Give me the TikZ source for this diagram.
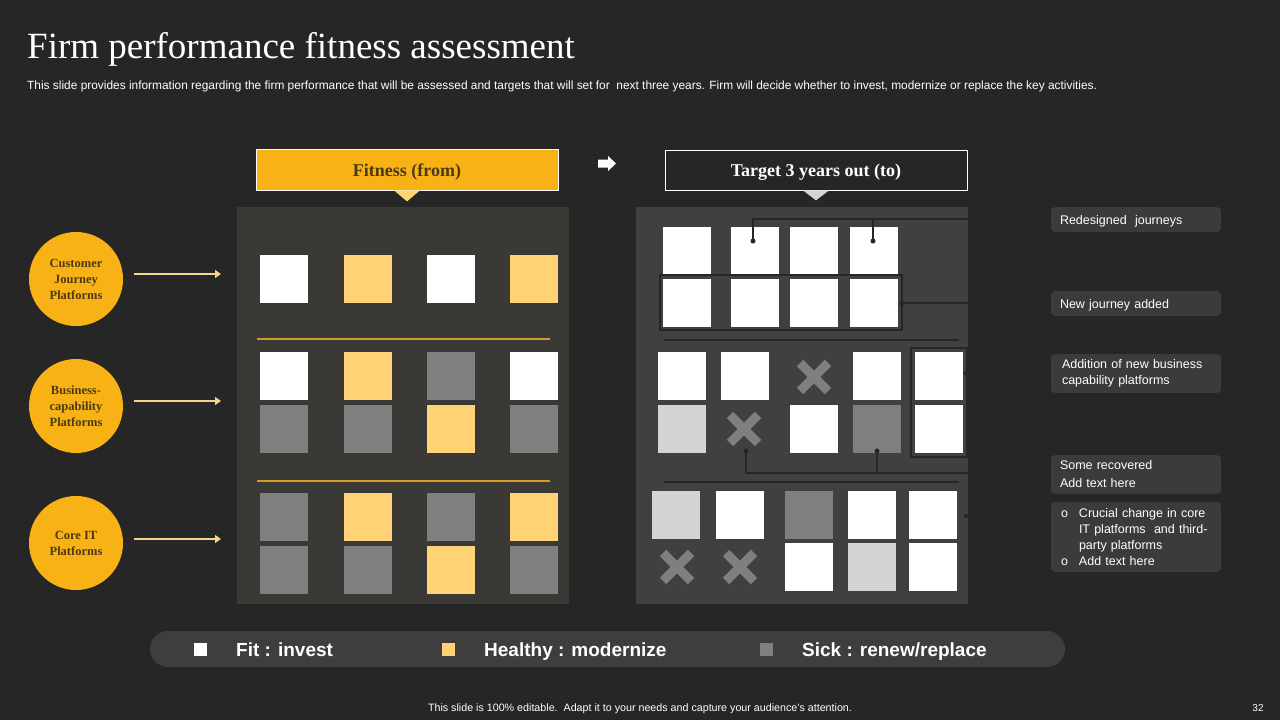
\documentclass[tikz,border=0pt]{standalone}
\usepackage{fontspec}
\setmainfont{Liberation Serif}
\setsansfont{Liberation Sans}
\usetikzlibrary{arrows.meta,calc}
\definecolor{bg}{HTML}{262626}
\definecolor{panelL}{HTML}{3B3935}
\definecolor{panelR}{HTML}{404040}
\definecolor{gold}{HTML}{F9B215}
\definecolor{lyellow}{HTML}{FFD275}
\definecolor{sgrey}{HTML}{7F7F7F}
\definecolor{lgrey}{HTML}{D4D4D4}
\definecolor{brownt}{HTML}{4A3A12}
\definecolor{boxc}{HTML}{3B3B3B}
\definecolor{legbar}{HTML}{3E3E3E}
\definecolor{arrowc}{HTML}{F5D48C}
\definecolor{lineD}{HTML}{262626}
\definecolor{divL}{HTML}{D49A26}
\tikzset{
  sq/.style={rectangle,minimum width=48pt,minimum height=48pt,inner sep=0pt,draw=none},
  wsq/.style={sq,fill=white},
  ysq/.style={sq,fill=lyellow},
  gsq/.style={sq,fill=sgrey},
  lsq/.style={sq,fill=lgrey},
  xmk/.pic={\draw[line width=9pt,sgrey] (-14,-14)--(14,14) (-14,14)--(14,-14);},
  circ/.style={circle,fill=gold,minimum size=94pt,inner sep=0pt,align=center,text=brownt,
    font=\bfseries\fontsize{12.5}{16}\selectfont},
  sidearrow/.style={draw=arrowc,line width=1.6pt,-{Triangle[length=6pt,width=8pt]}},
  conn/.style={draw=lineD,line width=1.1pt},
  cdot/.style={circle,fill=black!85,inner sep=0pt,minimum size=5pt},
  divline/.style={draw=divL,line width=1.3pt},
  lbox/.style={rectangle,rounded corners=4pt,fill=boxc,minimum width=170pt,text width=152pt,
    inner xsep=9pt,inner ysep=0pt,align=left,text=white,font=\sffamily\fontsize{12.5}{16}\selectfont},
  hdr/.style={minimum width=302pt,minimum height=40pt,inner sep=0pt,line width=0.8pt,draw=white,
    text height=13pt,text depth=0pt,font=\bfseries\fontsize{18}{20}\selectfont},
  legsq/.style={rectangle,minimum size=13pt,inner sep=0pt},
  legtxt/.style={anchor=base west,inner sep=0pt,text=white,font=\sffamily\bfseries\fontsize{19}{22}\selectfont},
}
\begin{document}
\begin{tikzpicture}[x=1pt,y=-1pt]
\useasboundingbox (0,0) rectangle (1280,720);
\fill[bg] (0,0) rectangle (1280,720);
% title
\node[anchor=base west,inner sep=0pt,text=white,font=\fontsize{37}{40}\selectfont] (title) at (27,58) {Firm performance fitness assessment};
\node[anchor=base west,inner sep=0pt,text=white,font=\sffamily\fontsize{11.9}{13}\selectfont] (sub) at (27,89.5) {This slide provides information regarding the firm performance that will be assessed and targets that will set for\ \ next three years. Firm will decide whether to invest, modernize or replace the key activities.};
% panels
\fill[panelL] (237,207) rectangle (569,604);
\fill[panelR] (636,207) rectangle (968,604);
% headers
\node[hdr,fill=gold,minimum height=41pt,text=brownt] (fit) at (407,169.5) {Fitness (from)};
\fill[lyellow] ($(fit.south)+(-13,0)$) -- ($(fit.south)+(13,0)$) -- ($(fit.south)+(0,11)$) -- cycle;
\node[hdr,fill=bg,text=white] (tgt) at (816,170) {Target 3 years out (to)};
\fill[lgrey] ($(tgt.south)+(-13,0)$) -- ($(tgt.south)+(13,0)$) -- ($(tgt.south)+(0,10)$) -- cycle;
\coordinate (ba) at (607,163.5);
\fill[white] ($(ba)+(-9,-4)$) -- ($(ba)+(1,-4)$) -- ($(ba)+(1,-7.5)$) -- ($(ba)+(9,0)$) -- ($(ba)+(1,7.5)$) -- ($(ba)+(1,4)$) -- ($(ba)+(-9,4)$) -- cycle;
% circles
\node[circ] (c1) at (76,279) {Customer\\Journey\\Platforms};
\node[circ] (c2) at (76,406) {Business-\\capability\\Platforms};
\node[circ] (c3) at (76,543) {Core IT\\Platforms};
\coordinate (a1s) at (134,274); \coordinate (a1e) at (221,274);
\coordinate (a2s) at (134,401); \coordinate (a2e) at (221,401);
\coordinate (a3s) at (134,539); \coordinate (a3e) at (221,539);
\draw[sidearrow] (a1s) -- (a1e);
\draw[sidearrow] (a2s) -- (a2e);
\draw[sidearrow] (a3s) -- (a3e);
% left panel squares
\node[wsq] (l11) at (284,279) {};
\node[ysq] (l12) at (367.5,279) {};
\node[wsq] (l13) at (451,279) {};
\node[ysq] (l14) at (534,279) {};
\draw[divline] (257,339) -- (550,339);
\node[wsq] (l21) at (284,376) {};
\node[ysq] (l22) at (367.5,376) {};
\node[gsq] (l23) at (451,376) {};
\node[wsq] (l24) at (534,376) {};
\node[gsq] (l31) at (284,429) {};
\node[gsq] (l32) at (367.5,429) {};
\node[ysq] (l33) at (451,429) {};
\node[gsq] (l34) at (534,429) {};
\draw[divline] (257,481) -- (550,481);
\node[gsq] (l41) at (284,517) {};
\node[ysq] (l42) at (367.5,517) {};
\node[gsq] (l43) at (451,517) {};
\node[ysq] (l44) at (534,517) {};
\node[gsq] (l51) at (284,569.5) {};
\node[gsq] (l52) at (367.5,569.5) {};
\node[ysq] (l53) at (451,569.5) {};
\node[gsq] (l54) at (534,569.5) {};
% right panel top group
\node[wsq] (t11) at (686.5,251) {};
\node[wsq] (t12) at (755,251) {};
\node[wsq] (t13) at (814,251) {};
\node[wsq] (t14) at (873.5,251) {};
\node[wsq] (t21) at (686.5,303) {};
\node[wsq] (t22) at (755,303) {};
\node[wsq] (t23) at (814,303) {};
\node[wsq] (t24) at (873.5,303) {};
\draw[conn] (660,275) rectangle (902,330);
\coordinate (d1) at (753,241); \coordinate (d2) at (873,241); \coordinate (e1) at (968,219);
\draw[conn] (d1) |- (e1);
\draw[conn] (d2) -- (d2 |- e1);
\node[cdot] at (d1) {}; \node[cdot] at (d2) {};
\coordinate (d3) at (902,303); \coordinate (e2) at (968,303);
\draw[conn] (d3) -- (e2);
\node[cdot] at (d3) {};
\draw[conn] (664,340) -- (959,340);
% right panel middle group
\node[wsq] (m11) at (681.5,376) {};
\node[wsq] (m12) at (745,376) {};
\pic at (814,377) {xmk};
\node[wsq] (m14) at (877,376) {};
\node[wsq] (m15) at (938.5,376) {};
\node[lsq] (m21) at (681.5,429) {};
\pic at (744,429) {xmk};
\node[wsq] (m23) at (814,429) {};
\node[gsq] (m24) at (877,429) {};
\node[wsq] (m25) at (938.5,429) {};
\draw[conn] (911,348) rectangle (967,457);
\coordinate (d4) at (746,451); \coordinate (d5) at (877,451); \coordinate (e3) at (968,473);
\draw[conn] (d4) |- (e3);
\draw[conn] (d5) -- (d5 |- e3);
\node[cdot] at (d4) {}; \node[cdot] at (d5) {};
\node[cdot,minimum size=4pt] at (965,373) {};
\draw[conn] (664,482) -- (959,482);
% right panel bottom group
\node[lsq] (b11) at (676,515) {};
\node[wsq] (b12) at (740,515) {};
\node[gsq] (b13) at (809,515) {};
\node[wsq] (b14) at (872,515) {};
\node[wsq] (b15) at (933,515) {};
\pic at (677,567) {xmk};
\pic at (740,567) {xmk};
\node[wsq] (b23) at (809,567) {};
\node[lsq] (b24) at (872,567) {};
\node[wsq] (b25) at (933,567) {};
\node[cdot,minimum size=4pt] at (966,516) {};
% right labels
\node[lbox,minimum height=25pt,text depth=0pt] (r1) at (1136,219.5) {Redesigned\ \ journeys};
\node[lbox,minimum height=25pt,text depth=0pt] (r2) at (1136,303.5) {New journey added};
\node[lbox,minimum height=39pt] (r3) at (1136,373.5) {\hspace*{2pt}Addition of new business\\\hspace*{2pt}capability platforms};
\node[lbox,minimum height=39pt] (r4) at (1136,474.5) {Some recovered\\[2pt]Add text here};
\node[lbox,minimum height=70pt] (r5) at (1136,537) {\makebox[19pt][l]{\hspace{1pt}o}Crucial change in core\\\hspace*{19pt}IT platforms\ \ and third-\\\hspace*{19pt}party platforms\\\makebox[19pt][l]{\hspace{1pt}o}Add text here};
% legend
\node[rectangle,rounded corners=18pt,fill=legbar,minimum width=915pt,minimum height=36pt,inner sep=0pt] (leg) at (607.5,649) {};
\node[legsq,fill=white] (k1) at (200.5,649.5) {};
\node[legsq,fill=lyellow] (k2) at (448,649.5) {};
\node[legsq,fill=sgrey] (k3) at (766,649.5) {};
\node[legtxt] (k1t) at (236,656) {Fit : invest};
\node[legtxt] (k2t) at (484,656) {Healthy : modernize};
\node[legtxt] (k3t) at (802,656) {Sick : renew/replace};
% footer
\node[anchor=base,inner sep=0pt,text=white,font=\sffamily\fontsize{10.7}{12}\selectfont] (foot) at (640,711.5) {This slide is 100\% editable.\ \ Adapt it to your needs and capture your audience's attention.};
\node[anchor=base,inner sep=0pt,text=white,font=\sffamily\fontsize{10}{12}\selectfont] (pg) at (1258,711.5) {32};
\end{tikzpicture}
\end{document}
